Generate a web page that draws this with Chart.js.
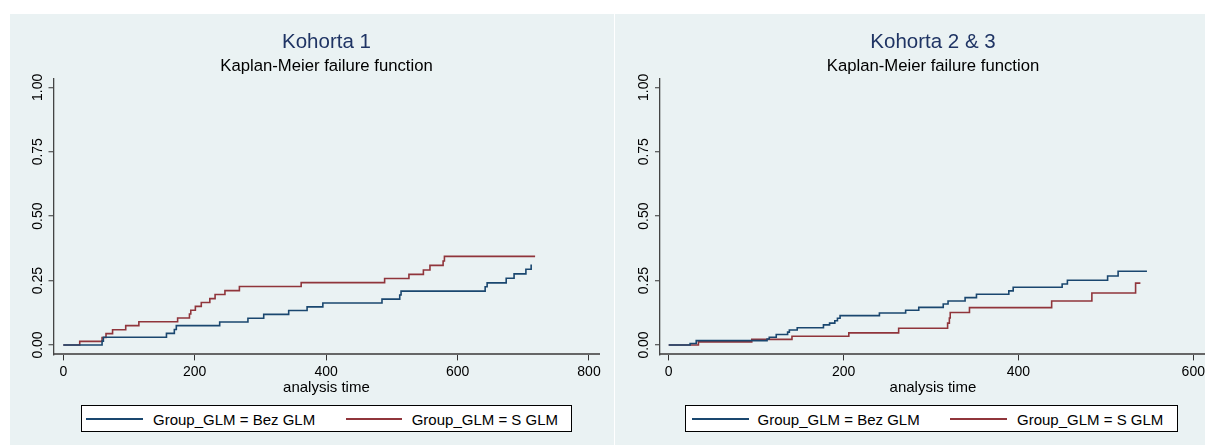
<!DOCTYPE html>
<html>
<head>
<meta charset="utf-8">
<script src="https://cdn.jsdelivr.net/npm/chart.js@4.4.0/dist/chart.umd.min.js"></script>
<style>
  body { margin: 0; width: 1205px; height: 445px; overflow: hidden; background: #fff; position: relative;
         font-family: "Liberation Sans", Arial, sans-serif; }
  .panel { position: absolute; top: 14px; height: 431px; background: #eaf2f3; }
  .panel canvas { position: absolute; left: 0; top: 0; }
  .abs { position: absolute; white-space: nowrap; }
  .title { font-size: 20.5px; line-height: 20.5px; color: #1f3464; text-align: center; }
  .subtitle { font-size: 16.7px; line-height: 16.7px; color: #000; text-align: center; }
  .legbox { box-sizing: border-box; border: 1px solid #000; background: #fff; height: 27px; top: 405px; }
  .sw { height: 1.5px; top: 418.3px; }
  .legtxt { font-size: 15px; line-height: 15px; top: 412.3px; color: #000; }
</style>
</head>
<body>

<div class="panel" style="left:10px; width:604px;"><canvas id="k1" width="604" height="390"></canvas></div>
<div class="panel" style="left:615px; width:600px;"><canvas id="k23" width="600" height="390"></canvas></div>

<div class="abs title" style="left:53.5px; width:546px; top:31px;">Kohorta 1</div>
<div class="abs subtitle" style="left:53.5px; width:546px; top:57.6px;">Kaplan-Meier failure function</div>
<div class="abs title" style="left:660px; width:546px; top:31px;">Kohorta 2 &amp; 3</div>
<div class="abs subtitle" style="left:660px; width:546px; top:57.6px;">Kaplan-Meier failure function</div>

<div class="abs legbox" style="left:80.5px; width:491.5px;"></div>
<div class="abs sw" style="left:86px; width:57px; background:#1a476f;"></div>
<div class="abs legtxt" style="left:153px;">Group_GLM = Bez GLM</div>
<div class="abs sw" style="left:345.5px; width:56px; background:#90353b;"></div>
<div class="abs legtxt" style="left:411.7px;">Group_GLM = S GLM</div>

<div class="abs legbox" style="left:685px; width:493px;"></div>
<div class="abs sw" style="left:691.5px; width:57px; background:#1a476f;"></div>
<div class="abs legtxt" style="left:757.5px;">Group_GLM = Bez GLM</div>
<div class="abs sw" style="left:950px; width:57px; background:#90353b;"></div>
<div class="abs legtxt" style="left:1017px;">Group_GLM = S GLM</div>

<script>
// axis ticks
const yTicks = [0, 0.25, 0.5, 0.75, 1];
const yTickLabels = ['0.00', '0.25', '0.50', '0.75', '1.00'];
const xTicksK1 = [0, 200, 400, 600, 800];
const xTicksK23 = [0, 200, 400, 600];

// Kohorta 1, Bez GLM
const k1BezTime = [0, 59, 61, 157, 169, 172, 238, 281, 305, 343, 371, 395, 485, 512, 514, 642, 645, 674, 686, 704, 712];
const k1BezFail = [0, 0.015, 0.030, 0.045, 0.060, 0.075, 0.089, 0.104, 0.119, 0.134, 0.148, 0.163, 0.178, 0.194, 0.209, 0.226, 0.241, 0.259, 0.276, 0.294, 0.312];
// Kohorta 1, S GLM
const k1SglmTime = [0, 25, 59, 65, 75, 95, 115, 174, 192, 194, 201, 210, 223, 231, 246, 268, 362, 489, 526, 548, 558, 578, 580, 718];
const k1SglmFail = [0, 0.014, 0.029, 0.044, 0.059, 0.075, 0.090, 0.105, 0.120, 0.135, 0.150, 0.165, 0.180, 0.196, 0.211, 0.227, 0.242, 0.258, 0.274, 0.291, 0.309, 0.326, 0.344, 0.344];

// Kohorta 2 & 3, Bez GLM
const k23BezTime = [0, 24.5, 31.5, 112.5, 115, 123, 136, 138, 147, 177, 184, 190, 193, 196, 241, 271, 286, 314, 319.5, 339, 352, 389, 394, 450, 456, 502, 514, 547];
const k23BezFail = [0, 0.006, 0.017, 0.023, 0.030, 0.041, 0.050, 0.058, 0.067, 0.078, 0.085, 0.094, 0.104, 0.114, 0.124, 0.135, 0.146, 0.159, 0.171, 0.184, 0.197, 0.210, 0.224, 0.237, 0.251, 0.268, 0.286, 0.286];
// Kohorta 2 & 3, S GLM
const k23SglmTime = [0, 34, 95, 141, 206, 263, 319, 321, 322, 344, 438, 484, 534, 539.5];
const k23SglmFail = [0, 0.012, 0.022, 0.034, 0.047, 0.065, 0.085, 0.105, 0.126, 0.145, 0.171, 0.202, 0.240, 0.240];

const BLUE = '#1a476f';
const RED = '#90353b';
const FONT = '"Liberation Sans", Arial, sans-serif';

const toPoints = (ts, vs) => ts.map((t, i) => ({ x: t, y: vs[i] }));

// stata style y labels, rotated
const yLabelPlugin = {
  id: 'yLabels',
  afterDraw(chart) {
    const s = chart.scales.y;
    const ctx = chart.ctx;
    ctx.save();
    ctx.font = '14px ' + FONT;
    ctx.fillStyle = '#000';
    ctx.textAlign = 'center';
    ctx.textBaseline = 'alphabetic';
    yTicks.forEach((v, i) => {
      ctx.save();
      ctx.translate(s.right - 11.8, s.getPixelForValue(v));
      ctx.rotate(-Math.PI / 2);
      ctx.fillText(yTickLabels[i], 0, 0);
      ctx.restore();
    });
    ctx.restore();
  }
};

function makeChart(id, cfg) {
  return new Chart(document.getElementById(id), {
    type: 'line',
    data: {
      datasets: [
        { label: 'Group_GLM = Bez GLM', data: toPoints(cfg.bezT, cfg.bezF), borderColor: BLUE },
        { label: 'Group_GLM = S GLM', data: toPoints(cfg.sT, cfg.sF), borderColor: RED },
      ].map(d => ({ ...d, stepped: true, pointRadius: 0, borderWidth: 1.6, fill: false, tension: 0 }))
    },
    options: {
      responsive: false,
      animation: false,
      events: [],
      layout: { padding: { top: 64.3, left: 0, right: cfg.padRight, bottom: 0 } },
      plugins: { legend: { display: false }, tooltip: { enabled: false }, title: { display: false } },
      scales: {
        x: {
          type: 'linear',
          min: cfg.xMin,
          max: cfg.xMax,
          afterBuildTicks: (s) => { s.ticks = cfg.xTicks.map(v => ({ value: v })); },
          afterFit: (s) => { s.height = 49.6; },
          ticks: { color: '#000', font: { family: FONT, size: 14 }, padding: 3, maxRotation: 0, autoSkip: false },
          grid: { drawOnChartArea: false, drawTicks: true, tickLength: 6, tickColor: '#333', tickWidth: 1 },
          border: { display: true, color: '#666', width: 2 },
          title: { display: true, text: 'analysis time', color: '#000', font: { family: FONT, size: 15 }, padding: { top: 0, bottom: 7.2 } }
        },
        y: {
          min: -0.0365,
          max: 1.035,
          afterBuildTicks: (s) => { s.ticks = yTicks.map(v => ({ value: v })); },
          afterFit: (s) => { s.width = cfg.yWidth; },
          ticks: { display: false },
          grid: { color: '#eaf2f3', lineWidth: 1.5, drawTicks: true, tickLength: 5, tickColor: '#333', tickWidth: 1 },
          border: { display: true, color: '#444', width: 1.3 }
        }
      }
    },
    plugins: [yLabelPlugin]
  });
}

makeChart('k1', {
  bezT: k1BezTime, bezF: k1BezFail, sT: k1SglmTime, sF: k1SglmFail,
  xMin: -14.9, xMax: 815.7, xTicks: xTicksK1, yWidth: 43.5, padRight: 14.7
});
makeChart('k23', {
  bezT: k23BezTime, bezF: k23BezFail, sT: k23SglmTime, sF: k23SglmFail,
  xMin: -9.95, xMax: 614.3, xTicks: xTicksK23, yWidth: 45, padRight: 9.2
});
</script>
</body>
</html>
